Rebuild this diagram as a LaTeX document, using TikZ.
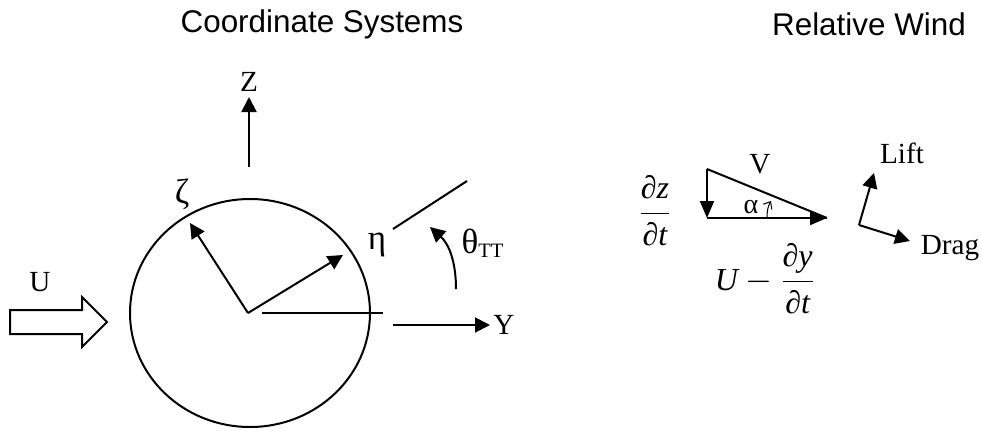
\documentclass[tikz,border=0pt]{standalone}
\usepackage{fontspec}
\setmainfont{Liberation Serif}
\newfontfamily\titlefont{Liberation Sans}
\usetikzlibrary{positioning,arrows.meta}

\begin{document}
\begin{tikzpicture}[x=0.5pt,y=-0.5pt,
  every node/.style={font=\fontsize{14.6}{17}\selectfont, inner sep=0pt},
  title/.style={font=\titlefont\fontsize{15.7}{18}\selectfont},
  greek/.style={font=\fontsize{17.5}{20}\selectfont},
  frac/.style={font=\fontsize{16}{18}\selectfont},
  line/.style={line width=1pt},
  axis/.style={line width=1pt, -{Triangle[length=7.5pt,width=7.5pt]}},
  vec/.style={line width=1pt, -{Triangle[length=8.5pt,width=7pt]}}
]
  \useasboundingbox (0,0) rectangle (982,430);

  \node[title] (cs) at (322,24) {Coordinate Systems};
  \node[title] (rw) at (869,24) {Relative Wind};

  % coordinate systems
  \coordinate (o) at (248,313);
  \draw[line] (250,313) ellipse [x radius=120, y radius=114];

  \coordinate (zbase) at (249,167);
  \coordinate (ztip) at (249,97);
  \node (Z) at (249,82) {Z};
  \draw[axis] (zbase) -- (ztip);

  \coordinate (zetatip) at (190,223);
  \coordinate (etatip) at (343,255);
  \node[greek] (zeta) at (182,194) {ζ};
  \node[greek] (eta) at (377,245) {η};
  \draw[axis] (o) -- (zetatip);
  \draw[axis] (o) -- (etatip);

  \coordinate (h1) at (262,313);
  \coordinate (h2) at (383,313);
  \draw[line] (h1) -- (h2);

  \coordinate (ybase) at (393,325);
  \coordinate (ytip) at (490,325);
  \node (Y) at (504,325) {Y};
  \draw[axis] (ybase) -- (ytip);

  \coordinate (p1) at (393,229);
  \coordinate (p2) at (467,181);
  \draw[line] (p1) -- (p2);

  \coordinate (thbase) at (456,289);
  \coordinate (thtip) at (430,227);
  \node (theta) at (483,243) {{\fontsize{17.5}{20}\selectfont θ}\textsubscript{TT}};
  \draw[axis] (thbase) .. controls (456,262) and (449,244) .. (thtip);

  \node (U) at (40,282) {U};
  \draw[line] (10,310) -- (82,310) -- (82,297) -- (107,322)
    -- (82,347) -- (82,334) -- (10,334) -- cycle;

  % relative wind
  \coordinate (a) at (707,169);
  \coordinate (b) at (707,218);
  \coordinate (c) at (827,218);
  \draw[line] (a) -- (c);
  \draw[vec] (a) -- (b);
  \draw[vec] (b) -- (c);
  \draw[line width=0.5pt, -{Straight Barb[length=3pt,width=5pt]}]
    (767,218) .. controls (767,211) and (768,206) .. (771,201);

  \node (V) at (760,164) {V};
  \node[font=\fontsize{14}{16}\selectfont] (alpha) at (751,207) {α};
  \node[frac] (dzdt) at (655,211)
    {$\displaystyle\frac{\mbox{\itshape ∂z}}{\mbox{\itshape ∂t}}$};
  \node[frac] (udy) at (765,279)
    {$\mbox{\itshape U}-\displaystyle\frac{\mbox{\itshape ∂y}}{\mbox{\itshape ∂t}}$};

  \coordinate (ld) at (859,225);
  \coordinate (lifttip) at (874,173);
  \coordinate (dragtip) at (910,241);
  \node (lift) at (902,153) {Lift};
  \node (drag) at (950,248) {Drag};
  \draw[axis] (ld) -- (lifttip);
  \draw[axis] (ld) -- (dragtip);
\end{tikzpicture}
\end{document}
